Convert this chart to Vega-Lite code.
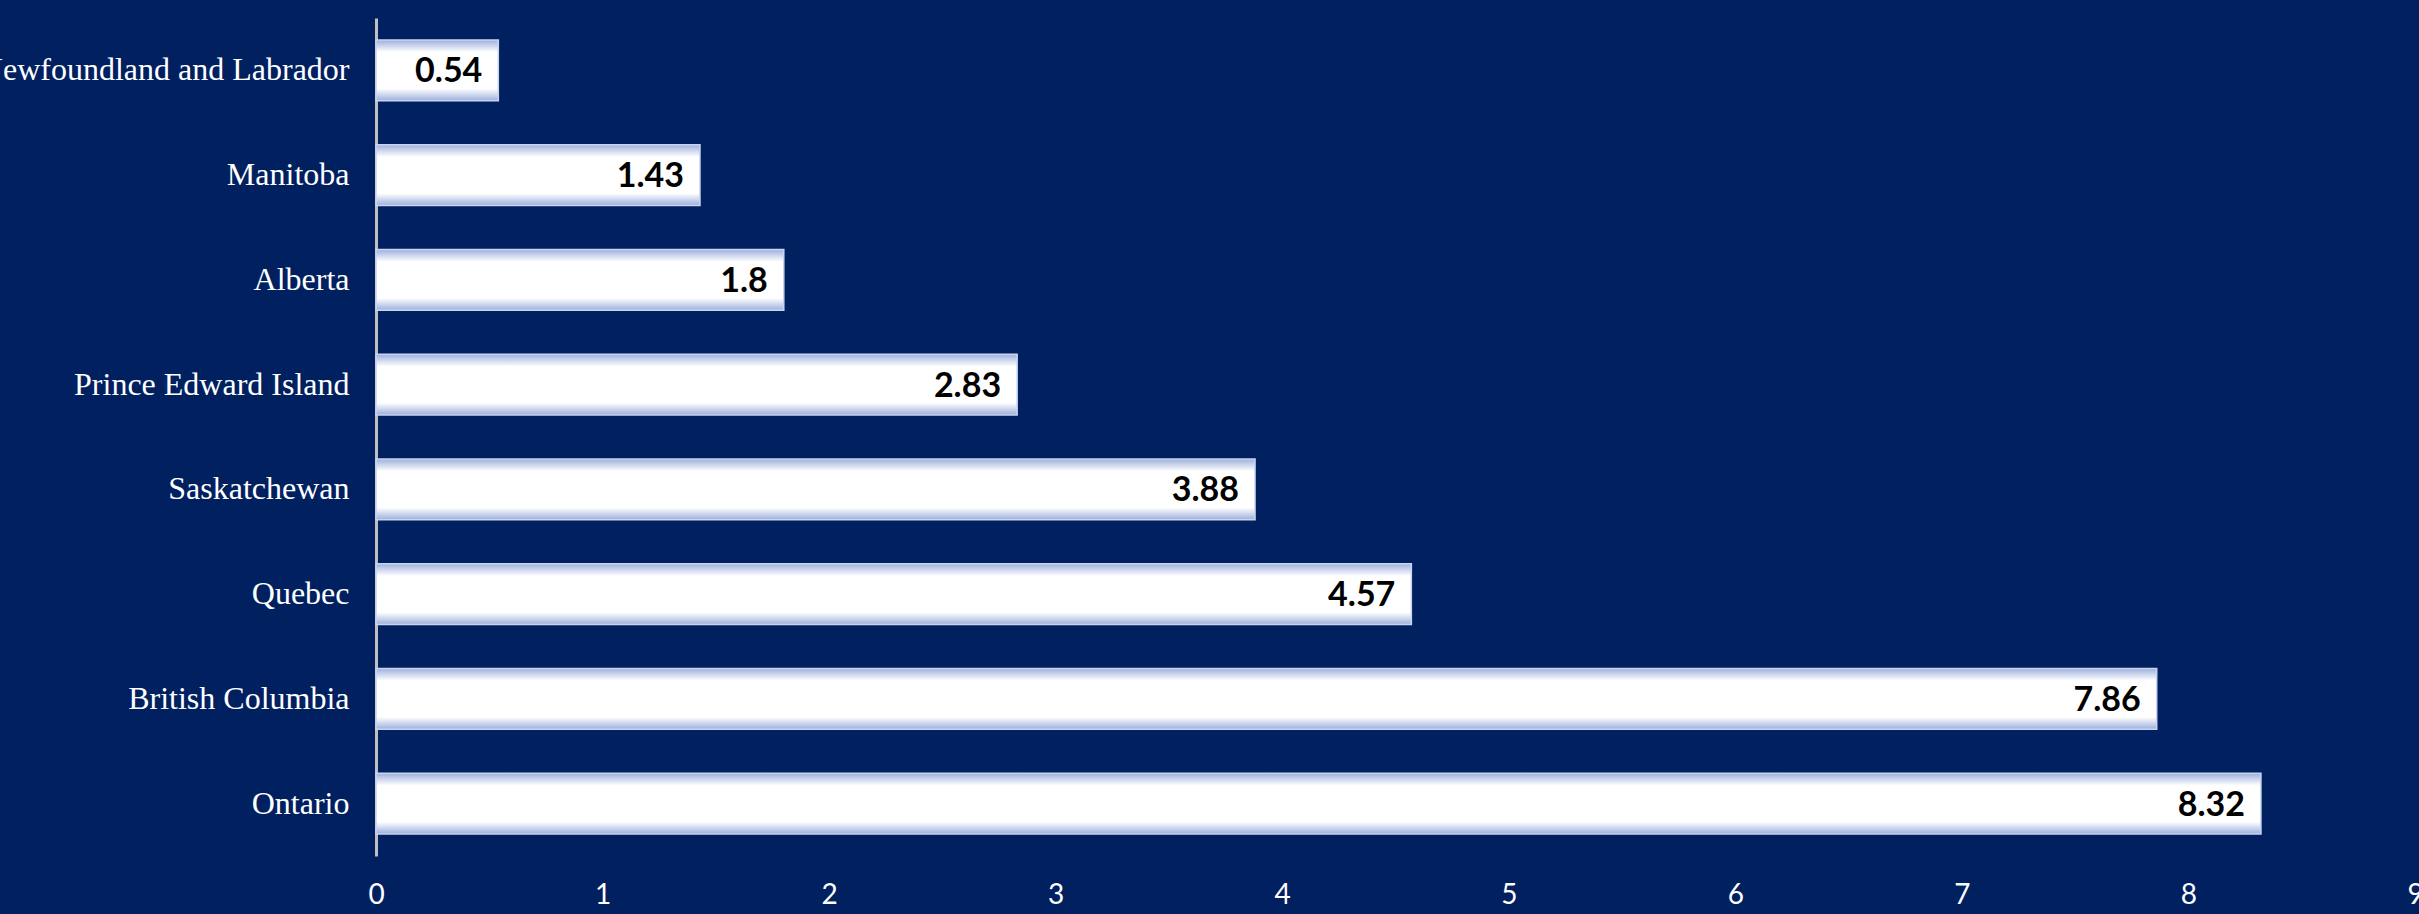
{
  "$schema": "https://vega.github.io/schema/vega-lite/v6.json",
  "autosize": {"type": "none"},
  "padding": {"left": 376, "top": 18, "right": 4, "bottom": 58},
  "width": 2039,
  "height": 838,
  "background": "#002060",
  "config": {"view": {"stroke": null}},
  "data": {
    "values": [
      {"province": "Newfoundland and Labrador", "value": 0.54},
      {"province": "Manitoba", "value": 1.43},
      {"province": "Alberta", "value": 1.8},
      {"province": "Prince Edward Island", "value": 2.83},
      {"province": "Saskatchewan", "value": 3.88},
      {"province": "Quebec", "value": 4.57},
      {"province": "British Columbia", "value": 7.86},
      {"province": "Ontario", "value": 8.32}
    ]
  },
  "encoding": {
    "y": {
      "field": "province",
      "type": "nominal",
      "sort": null,
      "scale": {"paddingInner": 0.42, "paddingOuter": 0.21},
      "axis": {
        "title": null,
        "labelFont": "Liberation Serif",
        "labelFontSize": 32,
        "labelColor": "#ffffff",
        "labelPadding": 27,
        "labelLimit": 2000,
        "ticks": false,
        "tickSize": 0,
        "domainColor": "#BFBFBF",
        "domainWidth": 3
      }
    },
    "x": {
      "field": "value",
      "type": "quantitative",
      "scale": {"domain": [0, 9], "nice": false},
      "axis": {
        "title": null,
        "values": [0, 1, 2, 3, 4, 5, 6, 7, 8, 9],
        "labelFont": "Lato",
        "labelFontSize": 28,
        "labelColor": "#ffffff",
        "labelPadding": 25,
        "labelFlush": false,
        "labelOverlap": false,
        "domain": false,
        "ticks": false,
        "tickSize": 0,
        "grid": false
      }
    }
  },
  "layer": [
    {
      "mark": {
        "type": "bar",
        "color": {
          "gradient": "linear",
          "x1": 0, "y1": 0, "x2": 0, "y2": 1,
          "stops": [
            {"offset": 0, "color": "#9cafdd"},
            {"offset": 0.2, "color": "#ffffff"},
            {"offset": 0.8, "color": "#ffffff"},
            {"offset": 1, "color": "#9cafdd"}
          ]
        },
        "stroke": "#c9d4f0",
        "strokeWidth": 1.5
      }
    },
    {
      "mark": {
        "type": "text",
        "align": "right",
        "baseline": "middle",
        "dx": -16,
        "dy": 2,
        "font": "Lato",
        "fontWeight": "bold",
        "fontSize": 34,
        "color": "#000000"
      },
      "encoding": {
        "text": {"field": "value", "type": "quantitative", "format": "~g"}
      }
    }
  ]
}
